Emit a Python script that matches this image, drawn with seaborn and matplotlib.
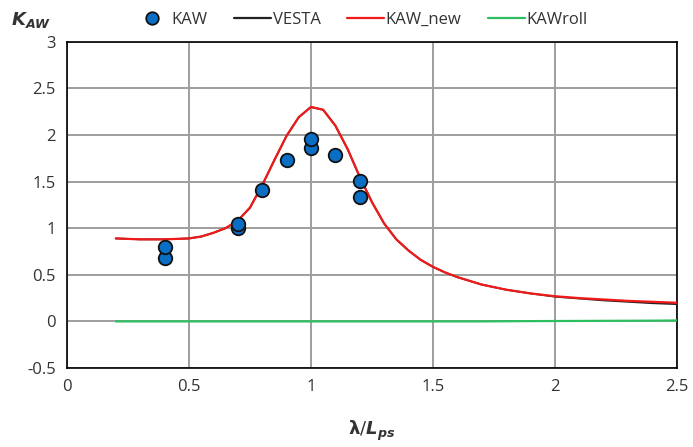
import numpy as np
import pandas as pd
import seaborn as sns
from matplotlib import pyplot as plt
from matplotlib.lines import Line2D

# measured points (KAW)
kaw_x = [0.4, 0.4, 0.7, 0.7, 0.8, 0.9, 1.0, 1.0, 1.1, 1.2, 1.2]
kaw_y = [0.68, 0.80, 1.00, 1.05, 1.41, 1.73, 1.86, 1.96, 1.79, 1.51, 1.33]

# curves
curve_x = [0.2, 0.3, 0.4, 0.5, 0.55, 0.6, 0.65, 0.7, 0.75, 0.8, 0.85, 0.9, 0.95, 1.0, 1.05, 1.1,
           1.15, 1.2, 1.25, 1.3, 1.35, 1.4, 1.45, 1.5, 1.55, 1.6, 1.7, 1.8, 1.9, 2.0,
           2.1, 2.2, 2.3, 2.4, 2.5]
vesta_y = [0.89, 0.88, 0.88, 0.89, 0.91, 0.95, 1.00, 1.08, 1.22, 1.46, 1.73, 1.99, 2.19, 2.30, 2.27, 2.10,
           1.85, 1.55, 1.28, 1.05, 0.88, 0.76, 0.66, 0.585, 0.525, 0.475, 0.395, 0.34, 0.30, 0.265,
           0.245, 0.225, 0.21, 0.195, 0.185]
kaw_new_y = [0.89, 0.88, 0.88, 0.89, 0.91, 0.95, 1.00, 1.08, 1.22, 1.46, 1.73, 1.99, 2.19, 2.30, 2.27, 2.10,
             1.85, 1.55, 1.28, 1.05, 0.88, 0.76, 0.66, 0.585, 0.525, 0.475, 0.395, 0.34, 0.30, 0.27,
             0.25, 0.235, 0.22, 0.21, 0.20]
kaw_roll_y = [0.0, 0.0, 0.0, 0.0, 0.0, 0.0, 0.0, 0.0, 0.0, 0.0, 0.0, 0.0, 0.0, 0.0, 0.0, 0.0,
              0.0, 0.0, 0.0, 0.0, 0.0, 0.0, 0.0, 0.0, 0.0, 0.0, 0.0, 0.002, 0.003, 0.004,
              0.005, 0.006, 0.007, 0.008, 0.01]

df_pts = pd.DataFrame({"x": kaw_x, "y": kaw_y})
df_curves = pd.DataFrame({"x": curve_x, "VESTA": vesta_y, "KAW_new": kaw_new_y, "KAWroll": kaw_roll_y})

sns.set_style("white")
plt.rcParams['font.family'] = ['Open Sans', 'DejaVu Sans']
text_col = "#333333"

fig = plt.figure(figsize=(6.93, 4.47), dpi=100)
ax = fig.add_axes([0.0967, 0.1767, 0.88, 0.73])

sns.lineplot(data=df_curves, x="x", y="KAWroll", color="#2DBE60", linewidth=1.6, ax=ax, zorder=3)
sns.lineplot(data=df_curves, x="x", y="VESTA", color="#222222", linewidth=1.3, ax=ax, zorder=3)
sns.lineplot(data=df_curves, x="x", y="KAW_new", color="#F01A1A", linewidth=1.6, ax=ax, zorder=4)
sns.scatterplot(data=df_pts, x="x", y="y", color="#0A6EC4", edgecolor="#111111",
                linewidth=1.3, s=95, ax=ax, zorder=5)

ax.set_xlim(0, 2.5)
ax.set_ylim(-0.5, 3)
ax.set_xticks(np.arange(0, 2.51, 0.5))
ax.set_yticks(np.arange(-0.5, 3.01, 0.5))
ax.set_xticklabels(["0", "0.5", "1", "1.5", "2", "2.5"])
ax.set_yticklabels(["-0.5", "0", "0.5", "1", "1.5", "2", "2.5", "3"])
ax.grid(True, color="#9E9E9E", linewidth=1.4)
ax.set_axisbelow(True)
for sp in ax.spines.values():
    sp.set_color("black")
    sp.set_linewidth(1.2)
ax.tick_params(axis="both", labelsize=12, colors=text_col, length=0, pad=8)
ax.set_xlabel("")
ax.set_ylabel("")

fig.text(0.5 * (0.0967 + 0.977), 0.035, r"$\boldsymbol{\lambda}/\mathbfit{L}_{\mathbfit{ps}}$",
         fontsize=13, color=text_col, ha="center", va="center", math_fontfamily="dejavusans")
fig.text(0.045, 0.955, r"$\mathbfit{K}_{\mathbfit{AW}}$", fontsize=13, color=text_col,
         ha="center", va="center", math_fontfamily="dejavusans")

handles = [
    Line2D([], [], linestyle="", marker="o", markersize=9, markerfacecolor="#0A6EC4",
           markeredgecolor="#111111", markeredgewidth=1.3),
    Line2D([], [], color="#222222", linewidth=1.6),
    Line2D([], [], color="#F01A1A", linewidth=1.6),
    Line2D([], [], color="#2DBE60", linewidth=1.6),
]
leg = fig.legend(handles, ["KAW", "VESTA", "KAW_new", "KAWroll"], ncol=4, frameon=False,
                 loc="center", bbox_to_anchor=(0.52, 0.955), fontsize=12,
                 handlelength=2.2, handletextpad=0.1, columnspacing=1.6)
for t in leg.get_texts():
    t.set_color(text_col)

fig.savefig("out.png", dpi=100)
